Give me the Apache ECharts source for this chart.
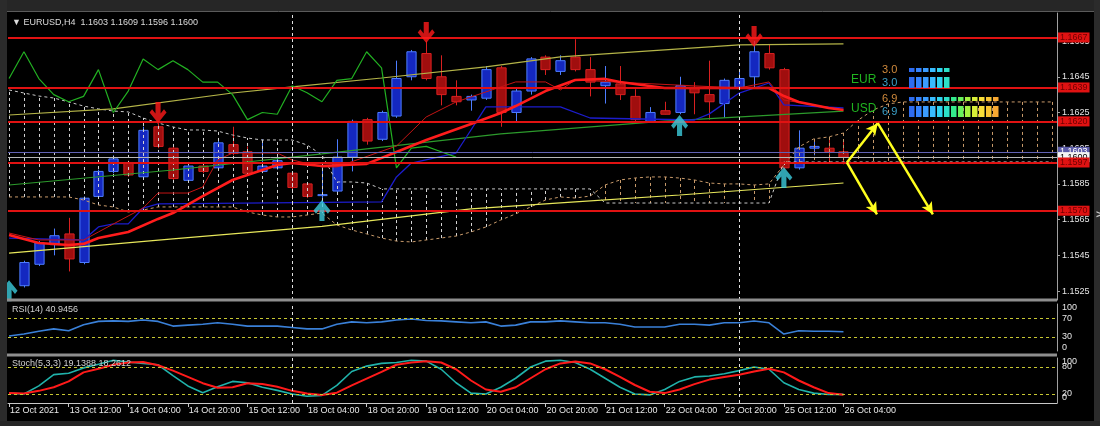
<!DOCTYPE html>
<html><head><meta charset="utf-8">
<script src="https://cdn.jsdelivr.net/npm/echarts@6/dist/echarts.min.js"></script>
<style>html,body{margin:0;padding:0;background:#262626;}#c{width:1100px;height:426px;}</style>
</head><body><div id="c"></div>
<script>
// ---------- DATA ----------
const headerText = '\u25BC EURUSD,H4  1.1603 1.1609 1.1596 1.1600';
const rsiTitle = 'RSI(14) 40.9456';
const stochTitle = 'Stoch(5,3,3) 19.1388 18.2612';
// candles, index k = 0..55 (13 Oct 00:00 .. 26 Oct 04:00, H4)
const opens  = [1.1528,1.1540,1.1551,1.1557,1.1541,1.1578,1.1592,1.1597,1.1589,1.1617,1.1605,1.1587,1.1595,1.1594,1.1607,1.1603,1.1592,1.1594,1.1591,1.1585,1.1579,1.1581,1.1600,1.1621,1.1610,1.1623,1.1645,1.1658,1.1645,1.1634,1.1632,1.1633,1.1650,1.1625,1.1637,1.1656,1.1648,1.1656,1.1649,1.1640,1.1641,1.1634,1.1620,1.1626,1.1625,1.1639,1.1635,1.1630,1.1639,1.1645,1.1658,1.1649,1.1594,1.1605,1.1605,1.1603];
const highs  = [1.1542,1.1553,1.1560,1.1566,1.1578,1.1593,1.1601,1.1598,1.1617,1.1619,1.1606,1.1596,1.1597,1.1610,1.1617,1.1606,1.1610,1.1600,1.1592,1.1586,1.1595,1.1610,1.1621,1.1622,1.1626,1.1654,1.1660,1.1665,1.1657,1.1643,1.1635,1.1651,1.1651,1.1639,1.1656,1.1657,1.1657,1.1666,1.1656,1.1651,1.1651,1.1638,1.1628,1.1631,1.1645,1.1642,1.1654,1.1644,1.1648,1.1665,1.1663,1.1650,1.1615,1.1609,1.1611,1.1609];
const lows   = [1.1527,1.1539,1.1545,1.1536,1.1540,1.1577,1.1591,1.1589,1.1588,1.1605,1.1587,1.1586,1.1591,1.1593,1.1601,1.1590,1.1591,1.1593,1.1582,1.1577,1.1573,1.1579,1.1592,1.1607,1.1609,1.1622,1.1643,1.1643,1.1629,1.1629,1.1626,1.1632,1.1617,1.1620,1.1635,1.1646,1.1646,1.1648,1.1634,1.1630,1.1632,1.1620,1.1620,1.1624,1.1624,1.1624,1.1621,1.1622,1.1638,1.1639,1.1649,1.1593,1.1593,1.1601,1.1597,1.1596];
const closes = [1.1541,1.1552,1.1556,1.1543,1.1577,1.1592,1.1599,1.1590,1.1615,1.1606,1.1588,1.1595,1.1592,1.1608,1.1602,1.1591,1.1595,1.1598,1.1583,1.1578,1.1579,1.1600,1.1620,1.1609,1.1625,1.1644,1.1659,1.1644,1.1635,1.1631,1.1634,1.1649,1.1625,1.1637,1.1655,1.1649,1.1654,1.1649,1.1642,1.1642,1.1635,1.1621,1.1625,1.1624,1.1640,1.1636,1.1631,1.1643,1.1644,1.1659,1.1650,1.1594,1.1605,1.1606,1.1603,1.1600];
// x-axis labels (bar index, text)
const tickKs = [-1,3,7,11,15,19,23,27,31,35,39,43,47,51,55];
const tickLabels = ['12 Oct 2021','13 Oct 12:00','14 Oct 04:00','14 Oct 20:00','15 Oct 12:00','18 Oct 04:00','18 Oct 20:00','19 Oct 12:00','20 Oct 04:00','20 Oct 20:00','21 Oct 12:00','22 Oct 04:00','22 Oct 20:00','25 Oct 12:00','26 Oct 04:00'];
const priceTicks = [1.1525,1.1545,1.1565,1.1585,1.1605,1.1625,1.1645,1.1665];
const rsiTicks = [0,30,70,100];
const stochTicks = [20,80];
const stochEdgeTicks = [100,0];
const weekSeparators = [18,48];
// horizontal levels
const levelPrices = [1.1667,1.1639,1.1620,1.1597,1.1570];
const askPrice = 1.1603;
const bidPrice = 1.1600;
// moving averages, [bar index, price]
const maSlow  = [[-1,1.15463],[10,1.15542],[20,1.15612],[30,1.1571],[37,1.15749],[44,1.15788],[55,1.15855]];
const maUpper = [[-1,1.16236],[6,1.1627],[14,1.16359],[18,1.16393],[24,1.16443],[31,1.16505],[36,1.16561],[43,1.166],[48,1.16628],[55,1.16634]];
const maGreen = [[-1,1.15844],[10,1.15928],[20,1.16018],[32,1.1613],[43,1.16202],[55,1.16258]];
const maRed   = [[-1,1.15564],[1,1.15519],[3,1.15508],[4,1.15514],[5,1.15547],[7,1.15581],[9,1.15654],[10,1.15687],[12,1.15782],[14,1.15872],[16,1.15928],[17,1.15956],[18,1.15967],[20,1.1595],[23,1.15962],[25,1.16029],[27,1.16096],[30,1.16186],[32,1.16247],[33,1.16286],[35,1.1637],[37,1.16432],[39,1.16438],[40,1.16421],[43,1.16387],[50,1.16387],[51,1.16342],[52,1.16309],[54,1.16275],[55,1.16264]];
const tenkan  = [[-1,1.15575],[1,1.15536],[4,1.15536],[5,1.15581],[8,1.15715],[9,1.15799],[11,1.15799],[12,1.15833],[13,1.15984],[14,1.16023],[17,1.16023],[18,1.15984],[20,1.15945],[21,1.15945],[25,1.16062],[27,1.16225],[29,1.16309],[33,1.16421],[35,1.16421],[36,1.16376],[37,1.16432],[41,1.16415],[48,1.16387],[50,1.16421],[51,1.1632],[55,1.16264]];
const kijun   = [[-1,1.15547],[4,1.15536],[5,1.15609],[6,1.15626],[7,1.15626],[8,1.15715],[9,1.15738],[24,1.15749],[25,1.15889],[26,1.15967],[29,1.16023],[30,1.16152],[31,1.16281],[36,1.16281],[38,1.16219],[45,1.16208],[46,1.16242],[48,1.16359],[50,1.16415],[51,1.16292],[55,1.16275]];
// Ichimoku cloud, bar index -1..69
const senkouA = [1.15777,1.15777,1.15777,1.15777,1.15777,1.1576,1.15732,1.15721,1.15693,1.15704,
  1.15721,1.15721,1.15721,1.15721,1.15721,1.15721,1.15693,1.15676,1.15665,1.15665,1.15676,1.15687,
  1.1562,1.15592,1.1557,1.15547,1.1553,1.15525,1.15536,1.15547,1.15558,1.15581,1.15609,1.15648,1.15682,1.15721,1.1576,1.15777,1.15771,1.15782,
  1.15844,1.15872,1.15883,1.15889,1.15889,1.15883,1.15872,1.15855,1.1585,1.1585,1.15844,1.1585,
  1.15956,1.16057,1.16102,1.16113,1.16135,1.16208,1.16264,1.16298,
  1.16309,1.16309,1.16309,1.16309,1.16309,1.16309,1.16309,1.16309,1.16309,1.16309,1.16309];
const senkouB = [1.16376,1.16359,1.16342,1.16331,1.16309,1.16286,1.1627,1.16258,1.16253,1.16219,1.16191,
  1.16169,1.16152,1.16152,1.16146,1.16124,1.16107,1.16096,1.16096,1.16096,1.16068,1.16012,
  1.15861,1.15861,1.15855,
  1.15822,1.15822,1.15822,1.15822,1.15822,1.15822,1.15822,1.15822,1.15822,1.15822,1.15822,1.15822,1.15822,1.15822,1.15822,
  1.15743,1.15743,1.15743,1.15743,1.15743,1.15743,1.15743,1.15743,1.15743,1.15743,1.15743,1.15743,
  1.15973,1.15973,1.15973,1.15973,1.15973,1.15973,1.15973,1.15973,1.15973,1.15973,1.15973,1.15973,1.15973,1.15973,1.15973,1.15973,1.15973,1.15973,1.15973];
// signal arrows [bar index, price at tip]
const arrowsDown = [[9,1.16191],[27,1.16639],[49,1.16617]];
const arrowsUp   = [[-1,1.1531],[20,1.1576],[44,1.16236],[51,1.15945]];
// hand-drawn yellow arrows [[k,price],[k,price]]
const drawnArrows = [[[55.23,1.1597],[57.3,1.1619]],[[57.3,1.1619],[61.0,1.1568]],[[55.23,1.1597],[57.25,1.1568]]];
// oscillators, bar index -1..55
const rsiValues = [32,36,42,47,43,56,63,64,63,66,63,53,55,57,60,57,53,53,53,50,47,47,57,62,60,62,66,68,65,64,62,60,62,53,55,62,62,64,62,60,60,57,51,51,51,57,57,55,60,60,64,60,36,43,42,42,40.9456];
const stochMain = [22,20,38,63,66,78,86,95,91,88,85,61,38,23,36,48,45,35,28,20,15,17,39,70,82,88,90,95,93,75,45,22,20,35,55,80,93,95,90,75,55,35,20,18,30,48,58,60,65,72,80,75,45,30,22,19,19.1388];
const stochSignal = [22,21,27,35,48,68,76,85,90,91,84,72,58,44,34,35,44,42,36,27,21,18,23,39,54,69,85,90,93,90,75,50,30,25,35,55,75,88,92,88,75,58,40,25,22,30,42,52,58,63,70,76,68,50,35,22,18.2612];
// currency strength panel
const strengthCurr = ['EUR','USD'];
const strengthTop = [3.0, 6.9];
const strengthBottom = [3.0, 6.9];
const strengthPalette = ['#2e6cf0','#3584ff','#3a9cff','#38bcff','#30d4f0','#2ce0c8','#34ea8c','#68f05c','#a4f040','#d8ee38','#f8de38','#f8c432','#f8a832'];

// ---------- CHART ----------
const X_MIN = -1.07, X_MAX = 69.33;
const FONT = '"Liberation Sans", Arial, sans-serif';
const chart = echarts.init(document.getElementById('c'));

const candleData = opens.map((o,i)=>[i,o,highs[i],lows[i],closes[i]]);
const cloudData = senkouA.map((a,i)=>[i-1,a,senkouB[i]]);
const chikou = closes.slice(25).map((c,i)=>[i-1,c]);
const idx = arr => arr.map((v,i)=>[i-1,v]);

function renderCandle(params, api){
  const k=api.value(0), o=api.value(1), h=api.value(2), l=api.value(3), c=api.value(4);
  const po=api.coord([k,o]), pc=api.coord([k,c]), ph=api.coord([k,h]), pl=api.coord([k,l]);
  const w = api.size([1,0])[0]*0.62;
  const up = c>=o;
  const x = Math.round(po[0])+0.5;
  const top=Math.min(po[1],pc[1]), bot=Math.max(po[1],pc[1]);
  const edge = up?'#4d7dff':'#d82020';
  return {type:'group', children:[
    {type:'line', shape:{x1:x,y1:ph[1],x2:x,y2:pl[1]}, style:{stroke:edge,lineWidth:1}},
    {type:'rect', shape:{x:x-w/2,y:top,width:w,height:Math.max(bot-top,1)}, style:{fill:up?'#1428c0':'#a00e0e',stroke:edge,lineWidth:1}}
  ]};
}
function renderHatch(params, api){
  const k=api.value(0), a=api.value(1), b=api.value(2);
  const pa=api.coord([k,a]), pb=api.coord([k,b]);
  const x=Math.round(pa[0])+0.5;
  return {type:'line', shape:{x1:x,y1:pa[1],x2:x,y2:pb[1]}, style:{stroke:a>b?'#c89a6a':'#d4d4d4',lineWidth:1,lineDash:[3,3]}};
}
// invisible carrier series for mark lines
const carrier = (xi,yi,yv,z,markLine)=>({type:'line', xAxisIndex:xi, yAxisIndex:yi, data:[[X_MIN,yv],[X_MAX,yv]], symbol:'none', silent:true, z, lineStyle:{opacity:0}, markLine});
const sepMark = {silent:true, precision:5, symbol:['none','none'], label:{show:false}, animation:false, lineStyle:{color:'#e0e0e0',type:[3,3],width:1}, data:weekSeparators.map(v=>({xAxis:v}))};
const lineS = (data,color,width,extra)=>Object.assign({type:'line', data, symbol:'none', silent:true, lineStyle:{color,width}, z:4}, extra||{});
const levelLabel = (bg,fg)=>({show:true, position:'end', distance:1, formatter:p=>Number(p.value).toFixed(4), backgroundColor:bg, color:fg, padding:[1,2,0,2], fontSize:9, fontFamily:FONT});

const levelItems = [
  {yAxis:askPrice, lineStyle:{color:'#6262b4',width:1,type:'solid'}, label:levelLabel('#5c5ca8','#ffffff')},
  {yAxis:bidPrice, lineStyle:{color:'#b8b8b8',width:1,type:'solid'}, label:levelLabel('#f4f4f4','#000000')}
].concat(levelPrices.map(v=>({yAxis:v, lineStyle:{color:'#e01212',width:2,type:'solid'}, label:levelLabel('#e01212','#6e0000')})));

const series = [
  {type:'custom', name:'candles', renderItem:renderCandle, data:candleData, encode:{x:0,y:[1,2,3,4]}, z:2, silent:true},
  {type:'custom', name:'cloud', renderItem:renderHatch, data:cloudData, encode:{x:0,y:[1,2]}, z:3, silent:true},
  lineS(idx(senkouA),'#c89a6a',1,{lineStyle:{color:'#c89a6a',width:1,type:[3,3]}}),
  lineS(idx(senkouB),'#d0d0d0',1,{lineStyle:{color:'#c8c8c8',width:1,type:[3,3]}}),
  lineS(maSlow,'#e6e65a',1.2),
  lineS(maUpper,'#b4b448',1.2),
  lineS(maGreen,'#2c9a2c',1.2),
  lineS(kijun,'#1c1ccc',1.3),
  lineS(tenkan,'#c41414',1),
  lineS(chikou,'#22b022',1.2),
  lineS(maRed,'#ff1c1c',2.6),
  {type:'scatter', data:arrowsDown, symbol:'path://M7,0 L13,0 L13,11 L17,7 L20,10 L10,20 L0,10 L3,7 L7,11 Z', symbolSize:[17,21], symbolOffset:[0,'-50%'], itemStyle:{color:'#ff1a1a'}, z:6, silent:true},
  {type:'scatter', data:arrowsUp, symbol:'path://M7,20 L13,20 L13,9 L17,13 L20,10 L10,0 L0,10 L3,13 L7,9 Z', symbolSize:[17,21], symbolOffset:[0,'50%'], itemStyle:{color:'#3cccdc'}, z:6, silent:true},
  carrier(0,0,bidPrice,7,{silent:true, precision:5, symbol:['none','none'], animation:false, data:levelItems}),
  carrier(0,0,bidPrice,8,{silent:true, precision:5, symbol:['none','arrow'], symbolSize:[9,12], label:{show:false}, animation:false,
    lineStyle:{color:'#ffff1e',width:2.5,type:'solid'}, data:drawnArrows.map(s=>[{coord:s[0]},{coord:s[1]}])}),
  carrier(0,0,bidPrice,5,sepMark),
  // RSI
  {type:'line', xAxisIndex:1, yAxisIndex:1, data:idx(rsiValues), symbol:'none', silent:true, lineStyle:{color:'#3a80d8',width:1.6},
    markLine:{silent:true, symbol:['none','none'], label:{show:false}, animation:false, lineStyle:{color:'#c8c832',type:[3,3],width:1}, data:[{yAxis:70},{yAxis:30}]}},
  carrier(1,1,50,5,sepMark),
  // Stochastic
  {type:'line', xAxisIndex:2, yAxisIndex:2, data:idx(stochMain), symbol:'none', silent:true, lineStyle:{color:'#20b2aa',width:1.6},
    markLine:{silent:true, symbol:['none','none'], label:{show:false}, animation:false, lineStyle:{color:'#c8c832',type:[3,3],width:1}, data:[{yAxis:80},{yAxis:20}]}},
  {type:'line', xAxisIndex:2, yAxisIndex:2, data:idx(stochSignal), symbol:'none', silent:true, lineStyle:{color:'#ff1a1a',width:2}},
  carrier(2,2,50,5,sepMark)
];

const axisCol = '#a0a0a0';
const yLab = {color:'#e6e6e6', fontSize:9, fontFamily:FONT, margin:5, hideOverlap:false};
const hiddenX = gi=>({gridIndex:gi, type:'value', min:X_MIN, max:X_MAX, show:false});

// strength graphics
const g = [];
strengthCurr.forEach((cur,i)=>{
  const dy = i*28.5;
  g.push({type:'text', x:851, y:80+dy, z:120, style:{text:cur, fill:'#20b420', font:'12px '+FONT, verticalAlign:'middle'}});
  g.push({type:'text', x:882, y:70+dy, z:120, style:{text:strengthTop[i].toFixed(1), fill:'#d08a3c', font:'11px '+FONT, verticalAlign:'middle'}});
  g.push({type:'text', x:882, y:83+dy, z:120, style:{text:strengthBottom[i].toFixed(1), fill:'#3ca0c8', font:'11px '+FONT, verticalAlign:'middle'}});
  const nTop = Math.floor(strengthTop[i]*2), nBot = Math.floor(strengthBottom[i]*2);
  for(let j=0;j<nTop;j++) g.push({type:'rect', z:120, shape:{x:909+j*7, y:Math.round(68+dy), width:5.5, height:4}, style:{fill:strengthPalette[j]}});
  for(let j=0;j<nBot;j++) g.push({type:'rect', z:120, shape:{x:909+j*7, y:Math.round(77+dy), width:5.5, height:11}, style:{fill:strengthPalette[j]}});
});
// stochastic edge labels (100 / 0), drawn beside the axis like the terminal does
const stochTop = 358, stochH = 45;
stochEdgeTicks.forEach(v=>{
  g.push({type:'text', z:110, x:1062, y: v===100 ? stochTop+4 : stochTop+stochH-5, style:{text:String(v), fill:'#e6e6e6', font:'9px '+FONT, verticalAlign:'middle'}});
});

const option = {
  backgroundColor:'#000000',
  animation:false,
  grid:[
    {left:8, right:43, top:13, height:287},
    {left:8, right:43, top:304, height:47},
    {left:8, right:43, top:stochTop, height:stochH}
  ],
  xAxis:[hiddenX(0), hiddenX(1),
    {gridIndex:2, type:'value', min:X_MIN, max:X_MAX, splitLine:{show:false},
     axisLine:{show:true, onZero:false, lineStyle:{color:'#c8c8c8'}},
     axisTick:{show:true, customValues:tickKs, length:4, lineStyle:{color:'#c8c8c8'}},
     axisLabel:{customValues:tickKs, formatter:v=>tickLabels[tickKs.indexOf(Math.round(v))]||'', color:'#e8e8e8', fontSize:9, fontFamily:FONT, align:'left', margin:3, padding:[0,0,0,1]}}
  ],
  yAxis:[
    {gridIndex:0, type:'value', position:'right', min:1.1520, max:1.16807, splitLine:{show:false},
     axisLine:{show:true, onZero:false, lineStyle:{color:axisCol}}, axisTick:{show:true, customValues:priceTicks, length:3, lineStyle:{color:axisCol}},
     axisLabel:Object.assign({customValues:priceTicks, formatter:v=>v.toFixed(4)}, yLab)},
    {gridIndex:1, type:'value', position:'right', min:0, max:100, splitLine:{show:false},
     axisLine:{show:true, onZero:false, lineStyle:{color:axisCol}}, axisTick:{show:false},
     axisLabel:Object.assign({customValues:rsiTicks, showMinLabel:true, showMaxLabel:true, formatter:v=>v===100?'{t|100}':(v===0?'{b|0}':String(v)), rich:{t:{padding:[8,0,0,0],fontSize:9,color:'#e6e6e6'},b:{padding:[0,0,7,0],fontSize:9,color:'#e6e6e6'}}}, yLab)},
    {gridIndex:2, type:'value', position:'right', min:0, max:100, splitLine:{show:false},
     axisLine:{show:true, onZero:false, lineStyle:{color:axisCol}}, axisTick:{show:false},
     axisLabel:Object.assign({customValues:stochTicks, formatter:v=>String(v)}, yLab)}
  ],
  series,
  graphic:[
    {type:'rect', z:100, shape:{x:0,y:0,width:1100,height:11}, style:{fill:'#262626'}},
    {type:'rect', z:100, shape:{x:0,y:0,width:7,height:426}, style:{fill:'#2b2b2b'}},
    {type:'rect', z:100, shape:{x:1094,y:0,width:6,height:426}, style:{fill:'#2b2b2b'}},
    {type:'rect', z:100, shape:{x:0,y:421,width:1100,height:5}, style:{fill:'#262626'}},
    {type:'line', z:100, shape:{x1:7,y1:11.5,x2:1094,y2:11.5}, style:{stroke:'#5a5a5a',lineWidth:1}},
    {type:'rect', z:100, shape:{x:7,y:298.5,width:1050,height:3}, style:{fill:'#8e8e8e'}},
    {type:'rect', z:100, shape:{x:7,y:353.5,width:1050,height:3}, style:{fill:'#8e8e8e'}},
    {type:'text', z:100, x:1096, y:215, style:{text:'>', fill:'#c8c8c8', font:'bold 11px '+FONT, verticalAlign:'middle'}},
    {type:'text', z:110, x:12, y:23, style:{text:headerText, fill:'#dcdcdc', font:'9px '+FONT, verticalAlign:'middle'}},
    {type:'text', z:110, x:12, y:310, style:{text:rsiTitle, fill:'#d0d0d0', font:'9px '+FONT, verticalAlign:'middle'}},
    {type:'text', z:110, x:12, y:364, style:{text:stochTitle, fill:'#d0d0d0', font:'9px '+FONT, verticalAlign:'middle'}},
    ...g
  ]
};
chart.setOption(option);
</script></body></html>
